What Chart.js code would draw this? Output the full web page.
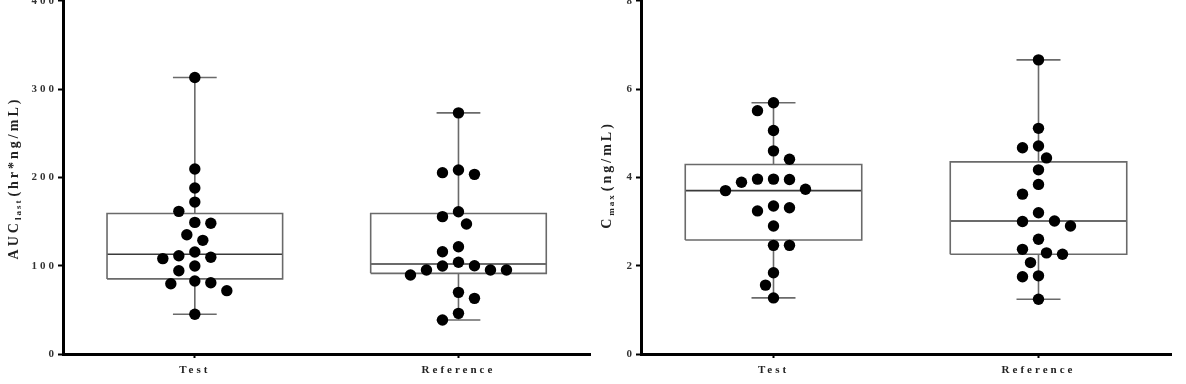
<!DOCTYPE html>
<html>
<head>
<meta charset="utf-8">
<script src="https://cdn.jsdelivr.net/npm/chart.js@4/dist/chart.umd.min.js"></script>
<style>
  html, body { margin: 0; padding: 0; background: #fff; }
  #wrap { position: relative; width: 1186px; height: 384px; overflow: hidden; }
  .pane { position: absolute; top: 0; height: 384px; }
</style>
</head>
<body>
<div id="wrap">
  <div class="pane" id="aucPane" style="left:0;width:596px"><canvas id="aucChart"></canvas></div>
  <div class="pane" id="cmaxPane" style="left:596px;width:590px"><canvas id="cmaxChart"></canvas></div>
</div>
<script>
// ---------------- data ----------------
const categories = ['Test', 'Reference'];

const aucTest = [313, 209.4, 188, 172, 161.5, 149, 148, 135, 128.7, 115.5, 111.3, 109.5, 108, 99.6, 94.3, 82.6, 80.7, 79.6, 71.7, 45];
const aucReference = [273, 208.3, 205.3, 203.4, 161, 155.5, 147.2, 121.5, 115.8, 103.8, 100, 99.6, 95.1, 95.1, 95.1, 89.4, 69.8, 63, 46, 38.5];

const cmaxTest = [5.69, 5.51, 5.06, 4.60, 4.41, 3.96, 3.96, 3.95, 3.89, 3.73, 3.70, 3.35, 3.31, 3.24, 2.90, 2.46, 2.46, 1.84, 1.56, 1.27];
const cmaxReference = [6.66, 5.11, 4.71, 4.67, 4.44, 4.17, 3.84, 3.62, 3.20, 3.01, 3.00, 2.90, 2.60, 2.37, 2.29, 2.26, 2.07, 1.77, 1.75, 1.24];

// box summaries: [min, q1, median, q3, max]
const aucTestBox = [45, 85, 113, 159, 313];
const aucReferenceBox = [38.5, 91.3, 101.9, 159, 273];
const cmaxTestBox = [1.27, 2.58, 3.70, 4.29, 5.69];
const cmaxReferenceBox = [1.24, 2.26, 3.01, 4.35, 6.66];

const aucTicks = [0, 100, 200, 300, 400];
const cmaxTicks = [0, 2, 4, 6, 8];

// ---------------- styling constants ----------------
const BOX_HALF = 0.333;   // in category units
const CAP_HALF = 0.083;
const LINE_COLOR = '#6a6a6a';
const MEDIAN_COLOR = '#3a3a3a';
const FONT_FAMILY = "'Liberation Serif', 'DejaVu Serif', serif";
const TARGET_TOP = 1;
const PAGE_H = 384;
Chart.defaults.color = '#222';

function seg(points, color, width) {
  return {
    type: 'line', data: points, showLine: true, fill: false, tension: 0,
    borderColor: color, borderWidth: width, pointRadius: 0, pointHoverRadius: 0,
    order: 5
  };
}

function boxDatasets(c, b) {
  const [mn, q1, md, q3, mx] = b;
  return [
    seg([{x:c-BOX_HALF,y:q1},{x:c+BOX_HALF,y:q1},{x:c+BOX_HALF,y:q3},{x:c-BOX_HALF,y:q3},{x:c-BOX_HALF,y:q1}], LINE_COLOR, 1.6),
    seg([{x:c-BOX_HALF,y:md},{x:c+BOX_HALF,y:md}], MEDIAN_COLOR, 1.6),
    seg([{x:c,y:q3},{x:c,y:mx}], LINE_COLOR, 1.6),
    seg([{x:c-CAP_HALF,y:mx},{x:c+CAP_HALF,y:mx}], LINE_COLOR, 1.6),
    seg([{x:c,y:q1},{x:c,y:mn}], LINE_COLOR, 1.6),
    seg([{x:c-CAP_HALF,y:mn},{x:c+CAP_HALF,y:mn}], LINE_COLOR, 1.6)
  ];
}

const spacingPlugin = {
  id: 'spacing',
  beforeLayout(chart) { chart.ctx.letterSpacing = '3px'; },
  beforeDraw(chart) { chart.ctx.letterSpacing = '3px'; }
};

function titlePlugin(main, sub, rest, cx, cy) {
  return {
    id: 'ytitle',
    afterDraw(chart) {
      const ctx = chart.ctx;
      ctx.save();
      ctx.translate(cx, cy + (chart.$shift || 0));
      ctx.rotate(-Math.PI / 2);
      ctx.fillStyle = '#222';
      ctx.textBaseline = 'alphabetic';
      ctx.textAlign = 'left';
      const fMain = 'bold 14px ' + FONT_FAMILY;
      const fSub = 'bold 9px ' + FONT_FAMILY;
      ctx.letterSpacing = '3px';
      ctx.font = fMain; const w1 = ctx.measureText(main).width;
      ctx.letterSpacing = '2px';
      ctx.font = fSub; const w2 = ctx.measureText(sub).width;
      ctx.letterSpacing = '3px';
      ctx.font = fMain; const w3 = ctx.measureText(rest).width;
      const total = w1 + w2 + 2 + w3;
      let x = -total / 2;
      const base = 5;
      ctx.font = fMain; ctx.letterSpacing = '3px'; ctx.fillText(main, x, base); x += w1;
      ctx.font = fSub; ctx.letterSpacing = '2px'; ctx.fillText(sub, x, base + 3); x += w2 + 2;
      ctx.font = fMain; ctx.letterSpacing = '3px'; ctx.fillText(rest, x, base);
      ctx.restore();
    }
  };
}

function makeChart(id, paneId, testVals, refVals, testBox, refBox, ticks, yWidth, padRight, title) {
  const dots = (vals, c) => ({
    type: 'scatter',
    data: vals.map(v => ({x: c, y: v})),
    backgroundColor: '#000', borderColor: '#000', borderWidth: 0,
    pointRadius: 5.7, pointHoverRadius: 5.7, order: 0
  });
  const datasets = [dots(testVals, 0), dots(refVals, 1)]
    .concat(boxDatasets(0, testBox), boxDatasets(1, refBox));

  const chart = new Chart(document.getElementById(id), {
    type: 'scatter',
    data: { datasets },
    options: {
      responsive: true, maintainAspectRatio: false, animation: false,
      layout: { padding: { top: TARGET_TOP, right: padRight, bottom: 0, left: 0 } },
      plugins: { legend: { display: false }, tooltip: { enabled: false } },
      scales: {
        x: {
          type: 'linear', min: -0.5, max: 1.5,
          afterBuildTicks: s => { s.ticks = categories.map((_, i) => ({ value: i })); },
          afterFit: s => { s.height = 30; s.paddingLeft = 0; s.paddingRight = 0; },
          ticks: {
            callback: v => categories[v] ?? '',
            font: { family: FONT_FAMILY, weight: 'bold', size: 11 },
            color: '#222', padding: 6, maxRotation: 0, autoSkip: false
          },
          grid: { display: true, drawOnChartArea: false, drawTicks: true, tickLength: 4, tickColor: '#000', tickWidth: 2 },
          border: { display: true, color: '#000', width: 3 }
        },
        y: {
          type: 'linear', min: ticks[0], max: ticks[ticks.length - 1],
          afterBuildTicks: s => { s.ticks = ticks.map(v => ({ value: v })); },
          afterFit: s => { s.width = yWidth; s.paddingTop = 0; s.paddingBottom = 0; },
          ticks: {
            font: { family: FONT_FAMILY, weight: 'bold', size: 11 },
            color: '#333', padding: 1
          },
          grid: { display: true, drawOnChartArea: false, drawTicks: true, tickLength: 5, tickColor: '#000', tickWidth: 2 },
          border: { display: true, color: '#000', width: 3 }
        }
      }
    },
    plugins: [spacingPlugin, title]
  });

  // shift the pane so that the top of the value axis sits at the target edge
  const topPx = chart.scales.y.getPixelForValue(chart.scales.y.max);
  const extra = Math.round(topPx - TARGET_TOP);
  if (extra > 0) {
    const pane = document.getElementById(paneId);
    pane.style.top = (-extra) + 'px';
    pane.style.height = (PAGE_H + extra) + 'px';
    chart.$shift = extra;
    chart.resize();
  }

  // beeswarm arrangement computed in pixel space through the chart's scales
  const xs = chart.scales.x, ys = chart.scales.y;
  const pxPerUnit = xs.getPixelForValue(1) - xs.getPixelForValue(0);
  function swarm(vals, c) {
    const step = 8, D = 14;
    const idx = vals.map((_, i) => i).sort((a, b) => vals[b] - vals[a]);
    const placed = [];
    const out = new Array(vals.length);
    let flip = -1;
    for (const i of idx) {
      const py = ys.getPixelForValue(vals[i]);
      let done = false;
      for (let k = 0; k < 30 && !done; k++) {
        const cands = k === 0 ? [0] : [flip * k, -flip * k];
        for (const cc of cands) {
          const px = cc * step;
          if (placed.every(p => Math.hypot(p.x - px, p.y - py) >= D)) {
            placed.push({ x: px, y: py });
            out[i] = c + px / pxPerUnit;
            if (cc !== 0) flip = -flip;
            done = true;
            break;
          }
        }
      }
    }
    return out;
  }
  const tx = swarm(testVals, 0), rx = swarm(refVals, 1);
  chart.data.datasets[0].data = testVals.map((v, i) => ({ x: tx[i], y: v }));
  chart.data.datasets[1].data = refVals.map((v, i) => ({ x: rx[i], y: v }));
  chart.update('none');
  return chart;
}

makeChart('aucChart', 'aucPane', aucTest, aucReference, aucTestBox, aucReferenceBox, aucTicks, 63, 4,
  titlePlugin('AUC', 'last', '(hr*ng/mL)', 13, 178));
makeChart('cmaxChart', 'cmaxPane', cmaxTest, cmaxReference, cmaxTestBox, cmaxReferenceBox, cmaxTicks, 45, 15,
  titlePlugin('C', 'max', '(ng/mL)', 10, 175));
</script>
</body>
</html>
